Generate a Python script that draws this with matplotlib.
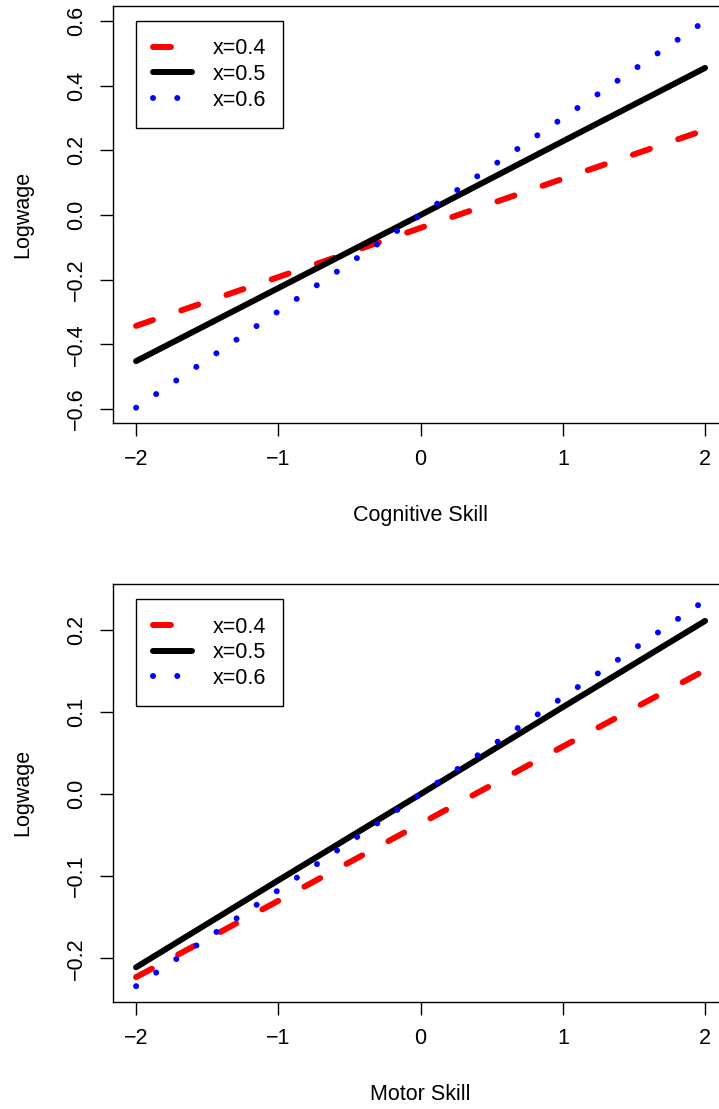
import numpy as np
import matplotlib
matplotlib.use("Agg")
import matplotlib.pyplot as plt

plt.rcParams['font.family'] = ['Liberation Sans', 'DejaVu Sans']

# skill values where the curves are read
skill = [-2, -1, 0, 1, 2]

# cognitive skill panel
cog_x04 = [-0.343, -0.192, -0.040, 0.112, 0.263]
cog_x05 = [-0.452, -0.226, 0.000, 0.228, 0.455]
cog_x06 = [-0.596, -0.298, 0.000, 0.300, 0.600]

# motor skill panel
mot_x04 = [-0.223, -0.130, -0.036, 0.058, 0.151]
mot_x05 = [-0.211, -0.105, 0.000, 0.106, 0.211]
mot_x06 = [-0.234, -0.117, 0.000, 0.118, 0.236]

labels = ['x=0.4', 'x=0.5', 'x=0.6']
xticks = [-2, -1, 0, 1, 2]
cog_yticks = [-0.6, -0.4, -0.2, 0.0, 0.2, 0.4, 0.6]
mot_yticks = [-0.2, -0.1, 0.0, 0.1, 0.2]

FS = 15.5
LW = 4.3

fig = plt.figure(figsize=(7.19, 11.09), dpi=100)
ax1 = fig.add_axes([0.1576, 0.61885, 0.8547, 0.37601])
ax2 = fig.add_axes([0.1576, 0.09675, 0.8547, 0.37665])


def panel(ax, y04, y05, y06, yticks, ylim, xlabel):
    ax.plot(skill, y04, color='#FF0000', lw=LW, linestyle=(0, (3, 5)),
            dash_capstyle='round', label=labels[0])
    ax.plot(skill, y05, color='black', lw=LW, solid_capstyle='round',
            label=labels[1])
    ax.plot(skill, y06, color='#0000FF', lw=LW, linestyle=(0, (0.01, 4.05)),
            dash_capstyle='round', label=labels[2])
    ax.set_xlim(-2.16, 2.16)
    ax.set_ylim(*ylim)
    ax.set_xticks(xticks)
    ax.set_xticklabels([str(t).replace('-', '\u2212') for t in xticks])
    ax.set_yticks(yticks)
    ax.set_yticklabels([('%.1f' % t).replace('-', '\u2212') for t in yticks],
                       rotation=90, va='center')
    ax.tick_params(length=9.4, width=1.0, labelsize=FS, pad=9.5, color='black')
    for s in ax.spines.values():
        s.set_linewidth(1.0)
    ax.set_xlabel(xlabel, fontsize=FS)
    ax.set_ylabel('Logwage', fontsize=FS)
    ax.xaxis.set_label_coords(0.5, -0.197)
    ax.yaxis.set_label_coords(-0.1307, 0.5)
    leg = ax.legend(loc='upper left', bbox_to_anchor=(0.0369, 0.9633),
                    borderaxespad=0, fontsize=FS, fancybox=False,
                    edgecolor='black', framealpha=1, handlelength=1.8,
                    handletextpad=0.95, borderpad=0.8, labelspacing=0.22)
    leg.get_frame().set_linewidth(1.0)


panel(ax1, cog_x04, cog_x05, cog_x06, cog_yticks, (-0.6424, 0.6473),
      'Cognitive Skill')
panel(ax2, mot_x04, mot_x05, mot_x06, mot_yticks, (-0.2529, 0.2560),
      'Motor Skill')

fig.savefig('out.png', dpi=100)
